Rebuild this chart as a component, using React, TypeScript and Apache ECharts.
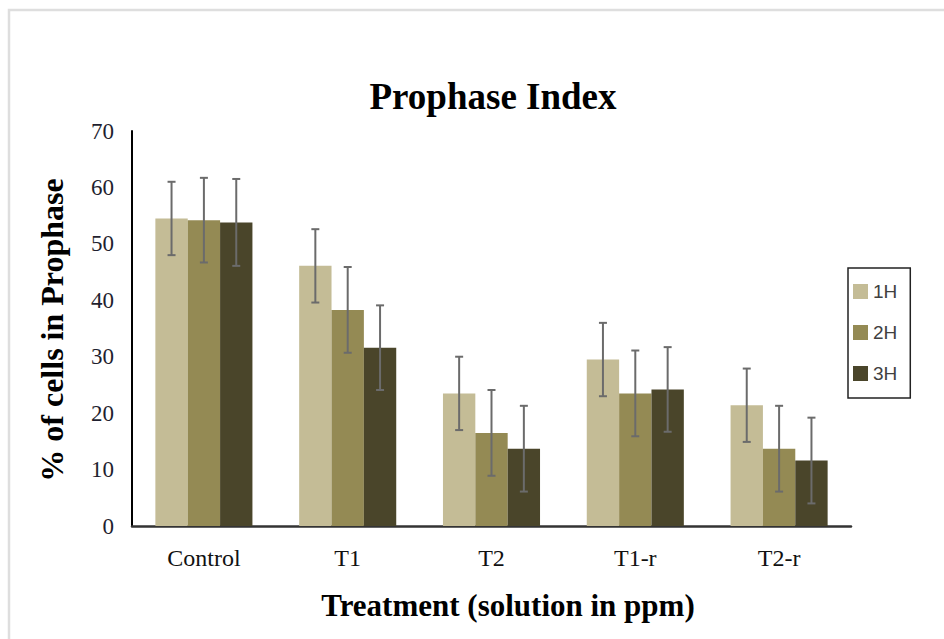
import React, { useEffect, useRef } from "react";
import * as echarts from "echarts";

const categories = ["Control", "T1", "T2", "T1-r", "T2-r"];
const seriesNames = ["1H", "2H", "3H"];
const values1H = [54.5, 46.1, 23.5, 29.5, 21.4];
const values2H = [54.2, 38.3, 16.5, 23.5, 13.7];
const values3H = [53.8, 31.6, 13.7, 24.2, 11.6];
const err1H = [6.5, 6.5, 6.5, 6.5, 6.5];
const err2H = [7.5, 7.6, 7.6, 7.6, 7.6];
const err3H = [7.7, 7.5, 7.6, 7.5, 7.6];
const yTicks = { min: 0, max: 70, interval: 10 };
const colors = ["#c4bc96", "#948a54", "#4a452a"];

const allValues = [values1H, values2H, values3H];
const allErr = [err1H, err2H, err3H];
const BAR_FRAC = 0.225;

export default function App() {
  const ref = useRef<HTMLDivElement>(null);
  useEffect(() => {
    if (!ref.current) return;
    const chart = echarts.init(ref.current, null, { renderer: "svg" });
    const barSeries = seriesNames.map((name, i) => ({
      name,
      type: "bar",
      data: allValues[i],
      barWidth: BAR_FRAC * 100 + "%",
      barGap: "0%",
      itemStyle: { color: colors[i] },
      z: 2,
    }));
    const errSeries = seriesNames.map((name, i) => ({
      name: name + " error",
      type: "custom",
      z: 5,
      data: allValues[i].map((v, k) => [k, v - allErr[i][k], v + allErr[i][k]]),
      renderItem: (params: any, api: any) => {
        const k = api.value(0);
        const lo = api.coord([k, api.value(1)]);
        const hi = api.coord([k, api.value(2)]);
        const bw = api.size([1, 0])[0] * BAR_FRAC;
        const x = lo[0] + (i - 1) * bw;
        const cap = 4;
        const style = { stroke: "#6b6b6b", lineWidth: 2, fill: "none" };
        return {
          type: "group",
          children: [
            { type: "line", shape: { x1: x, y1: lo[1], x2: x, y2: hi[1] }, style },
            { type: "line", shape: { x1: x - cap, y1: lo[1], x2: x + cap, y2: lo[1] }, style },
            { type: "line", shape: { x1: x - cap, y1: hi[1], x2: x + cap, y2: hi[1] }, style },
          ],
        };
      },
    }));
    chart.setOption({
      animation: false,
      backgroundColor: "#ffffff",
      grid: { left: 132, right: 93, top: 131, bottom: 113, containLabel: false },
      legend: {
        data: seriesNames,
        orient: "vertical",
        left: 848,
        top: 268,
        borderColor: "#222222",
        borderWidth: 1.5,
        padding: [14, 13, 15, 5],
        itemGap: 22,
        itemWidth: 15,
        itemHeight: 15,
        icon: "rect",
        textStyle: {
          fontFamily: "Liberation Sans",
          fontSize: 19,
          lineHeight: 15,
          color: "#404040",
        },
      },
      xAxis: {
        type: "category",
        data: categories,
        axisLine: { show: true, lineStyle: { color: "#333333", width: 2.5 } },
        axisTick: { show: false },
        axisLabel: {
          fontFamily: "Liberation Serif",
          fontSize: 24,
          color: "#111111",
          margin: 20,
        },
        splitLine: { show: false },
      },
      yAxis: {
        type: "value",
        min: yTicks.min,
        max: yTicks.max,
        interval: yTicks.interval,
        axisLine: { show: true, lineStyle: { color: "#000000", width: 2 } },
        axisTick: { show: false },
        splitLine: { show: false },
        axisLabel: {
          fontFamily: "Liberation Serif",
          fontSize: 23,
          color: "#1f1f2f",
          margin: 18,
        },
      },
      graphic: [
        {
          type: "rect",
          shape: { x: 9, y: 10, width: 960, height: 660 },
          style: { fill: "none", stroke: "#dedede", lineWidth: 2.5 },
          silent: true,
        },
        {
          type: "text",
          x: 493,
          y: 96,
          style: {
            text: "Prophase Index",
            fontFamily: "Liberation Serif",
            fontWeight: "bold",
            fontSize: 37,
            fill: "#000000",
            align: "center",
            verticalAlign: "middle",
          },
        },
        {
          type: "text",
          x: 508,
          y: 605,
          style: {
            text: "Treatment (solution in ppm)",
            fontFamily: "Liberation Serif",
            fontWeight: "bold",
            fontSize: 31,
            fill: "#000000",
            align: "center",
            verticalAlign: "middle",
          },
        },
        {
          type: "text",
          x: 52,
          y: 330,
          rotation: Math.PI / 2,
          style: {
            text: "% of cells in Prophase",
            fontFamily: "Liberation Serif",
            fontWeight: "bold",
            fontSize: 32,
            fill: "#000000",
            align: "center",
            verticalAlign: "middle",
          },
        },
      ],
      series: [...barSeries, ...errSeries],
    });
    return () => chart.dispose();
  }, []);
  return (
    <div
      ref={ref}
      style={{ position: "fixed", left: 0, top: 0, width: 944, height: 639 }}
    />
  );
}
